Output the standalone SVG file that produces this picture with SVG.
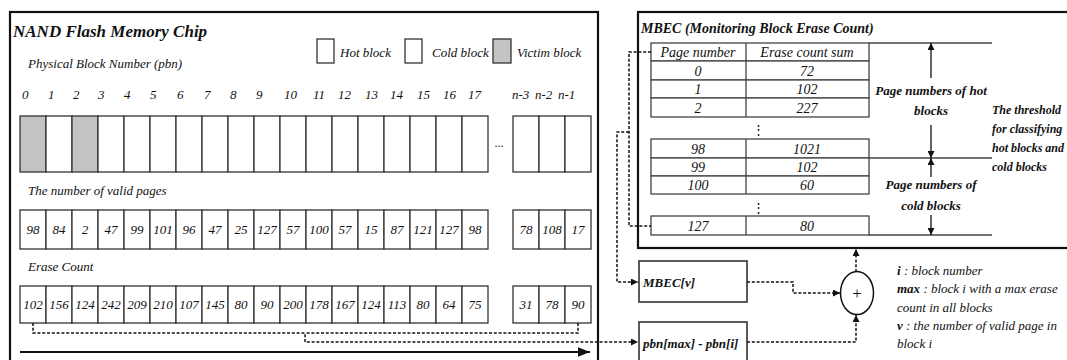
<svg xmlns="http://www.w3.org/2000/svg" width="1067" height="360" viewBox="0 0 1067 360">
<style>
text{font-family:"Liberation Serif","Times New Roman",serif;font-style:italic;fill:#111}
.bi{font-weight:bold}
.s12{font-size:12px}
.s13{font-size:13px}
.s14{font-size:14px}
.c{text-anchor:middle}
.cell{fill:#fff;stroke:#333;stroke-width:1.3}
.vic{fill:#c3c3c3;stroke:#333;stroke-width:1.3}
.frame{fill:none;stroke:#111;stroke-width:2.2}
.tab{fill:#fff;stroke:#444;stroke-width:1.3}
.ln{fill:none;stroke:#444;stroke-width:1.3}
.dash{fill:none;stroke:#111;stroke-width:1.5;stroke-dasharray:3 1.8}
.arr{fill:none;stroke:#111;stroke-width:1.3}
</style>
<defs>
<marker id="ah" viewBox="0 0 10 10" refX="10" refY="5" markerWidth="7" markerHeight="7" markerUnits="userSpaceOnUse" orient="auto">
<path d="M0,0 L10,5 L0,10 z" fill="#111"/>
</marker>
<marker id="ahL" viewBox="0 0 10 10" refX="10" refY="5" markerWidth="12" markerHeight="12" markerUnits="userSpaceOnUse" orient="auto">
<path d="M0,1 L10,5 L0,9 z" fill="#111"/>
</marker>
</defs>

<g id="nand-chip">
<rect class="frame" x="10" y="12" width="588" height="360"/>
<text class="bi" x="13" y="37" font-size="17">NAND Flash Memory Chip</text>
<text class="s13" x="28" y="68">Physical Block Number (pbn)</text>
<g id="legend">
<rect class="cell" x="317" y="39" width="17" height="24"/>
<text class="s13" x="340" y="57">Hot block</text>
<rect class="cell" x="405" y="39" width="17" height="24"/>
<text class="s13" x="432" y="57">Cold block</text>
<rect class="vic" x="493" y="39" width="18" height="24"/>
<text class="s13" x="517" y="57">Victim block</text>
</g>
<g id="pbn-numbers" class="s13">
<text x="22" y="99">0</text><text x="48" y="99">1</text><text x="73" y="99">2</text><text x="98" y="99">3</text><text x="124" y="99">4</text><text x="150" y="99">5</text><text x="177" y="99">6</text><text x="204" y="99">7</text><text x="230" y="99">8</text><text x="256" y="99">9</text><text x="284" y="99">10</text><text x="313" y="99">11</text><text x="338" y="99">12</text><text x="365" y="99">13</text><text x="390" y="99">14</text><text x="417" y="99">15</text><text x="443" y="99">16</text><text x="468" y="99">17</text>
<text x="512" y="99">n-3</text><text x="535" y="99">n-2</text><text x="558" y="99">n-1</text>
</g>
<g id="blocks">
<rect class="vic" x="20" y="116" width="26" height="56"/><rect class="cell" x="46" y="116" width="26" height="56"/><rect class="vic" x="72" y="116" width="26" height="56"/><rect class="cell" x="98" y="116" width="26" height="56"/><rect class="cell" x="124" y="116" width="26" height="56"/><rect class="cell" x="150" y="116" width="26" height="56"/><rect class="cell" x="176" y="116" width="26" height="56"/><rect class="cell" x="202" y="116" width="26" height="56"/><rect class="cell" x="228" y="116" width="26" height="56"/><rect class="cell" x="254" y="116" width="26" height="56"/><rect class="cell" x="280" y="116" width="26" height="56"/><rect class="cell" x="306" y="116" width="26" height="56"/><rect class="cell" x="332" y="116" width="26" height="56"/><rect class="cell" x="358" y="116" width="26" height="56"/><rect class="cell" x="384" y="116" width="26" height="56"/><rect class="cell" x="410" y="116" width="26" height="56"/><rect class="cell" x="436" y="116" width="26" height="56"/><rect class="cell" x="462" y="116" width="26" height="56"/>
<text class="s12" x="499" y="147" text-anchor="middle" style="font-style:normal">...</text>
<rect class="cell" x="513" y="116" width="26" height="56"/><rect class="cell" x="539" y="116" width="26" height="56"/><rect class="cell" x="565" y="116" width="26" height="56"/>
</g>
<text class="s13" x="28" y="195">The number of valid pages</text>
<g id="valid-pages">
<rect class="cell" x="20" y="210" width="26" height="39"/><rect class="cell" x="46" y="210" width="26" height="39"/><rect class="cell" x="72" y="210" width="26" height="39"/><rect class="cell" x="98" y="210" width="26" height="39"/><rect class="cell" x="124" y="210" width="26" height="39"/><rect class="cell" x="150" y="210" width="26" height="39"/><rect class="cell" x="176" y="210" width="26" height="39"/><rect class="cell" x="202" y="210" width="26" height="39"/><rect class="cell" x="228" y="210" width="26" height="39"/><rect class="cell" x="254" y="210" width="26" height="39"/><rect class="cell" x="280" y="210" width="26" height="39"/><rect class="cell" x="306" y="210" width="26" height="39"/><rect class="cell" x="332" y="210" width="26" height="39"/><rect class="cell" x="358" y="210" width="26" height="39"/><rect class="cell" x="384" y="210" width="26" height="39"/><rect class="cell" x="410" y="210" width="26" height="39"/><rect class="cell" x="436" y="210" width="26" height="39"/><rect class="cell" x="462" y="210" width="26" height="39"/>
<rect class="cell" x="513" y="210" width="26" height="39"/><rect class="cell" x="539" y="210" width="26" height="39"/><rect class="cell" x="565" y="210" width="26" height="39"/>
<g class="s13 c">
<text x="33" y="234">98</text><text x="59" y="234">84</text><text x="85" y="234">2</text><text x="111" y="234">47</text><text x="137" y="234">99</text><text x="163" y="234">101</text><text x="189" y="234">96</text><text x="215" y="234">47</text><text x="241" y="234">25</text><text x="267" y="234">127</text><text x="293" y="234">57</text><text x="319" y="234">100</text><text x="345" y="234">57</text><text x="371" y="234">15</text><text x="397" y="234">87</text><text x="423" y="234">121</text><text x="449" y="234">127</text><text x="475" y="234">98</text>
<text x="526" y="234">78</text><text x="552" y="234">108</text><text x="578" y="234">17</text>
</g>
</g>
<text class="s13" x="28" y="271">Erase Count</text>
<g id="erase-count">
<rect class="cell" x="20" y="286" width="26" height="37"/><rect class="cell" x="46" y="286" width="26" height="37"/><rect class="cell" x="72" y="286" width="26" height="37"/><rect class="cell" x="98" y="286" width="26" height="37"/><rect class="cell" x="124" y="286" width="26" height="37"/><rect class="cell" x="150" y="286" width="26" height="37"/><rect class="cell" x="176" y="286" width="26" height="37"/><rect class="cell" x="202" y="286" width="26" height="37"/><rect class="cell" x="228" y="286" width="26" height="37"/><rect class="cell" x="254" y="286" width="26" height="37"/><rect class="cell" x="280" y="286" width="26" height="37"/><rect class="cell" x="306" y="286" width="26" height="37"/><rect class="cell" x="332" y="286" width="26" height="37"/><rect class="cell" x="358" y="286" width="26" height="37"/><rect class="cell" x="384" y="286" width="26" height="37"/><rect class="cell" x="410" y="286" width="26" height="37"/><rect class="cell" x="436" y="286" width="26" height="37"/><rect class="cell" x="462" y="286" width="26" height="37"/>
<rect class="cell" x="513" y="286" width="26" height="37"/><rect class="cell" x="539" y="286" width="26" height="37"/><rect class="cell" x="565" y="286" width="26" height="37"/>
<g class="s13 c">
<text x="33" y="309">102</text><text x="59" y="309">156</text><text x="85" y="309">124</text><text x="111" y="309">242</text><text x="137" y="309">209</text><text x="163" y="309">210</text><text x="189" y="309">107</text><text x="215" y="309">145</text><text x="241" y="309">80</text><text x="267" y="309">90</text><text x="293" y="309">200</text><text x="319" y="309">178</text><text x="345" y="309">167</text><text x="371" y="309">124</text><text x="397" y="309">113</text><text x="423" y="309">80</text><text x="449" y="309">64</text><text x="475" y="309">75</text>
<text x="526" y="309">31</text><text x="552" y="309">78</text><text x="578" y="309">90</text>
</g>
</g>
</g>

<g id="mbec">
<rect class="frame" x="638" y="12" width="450" height="236"/>
<text class="bi s14" x="641" y="33">MBEC (Monitoring Block Erase Count)</text>
<g id="mbec-table">
<rect class="tab" x="651" y="43" width="218" height="18"/>
<rect class="tab" x="651" y="61" width="218" height="19"/>
<rect class="tab" x="651" y="80" width="218" height="18"/>
<rect class="tab" x="651" y="98" width="218" height="19"/>
<rect class="tab" x="651" y="139" width="218" height="19"/>
<rect class="tab" x="651" y="158" width="218" height="18"/>
<rect class="tab" x="651" y="176" width="218" height="18"/>
<rect class="tab" x="651" y="216" width="218" height="19"/>
<path class="ln" d="M746,43V117M746,139V194M746,216V235"/>
<path class="ln" d="M869,43H992M869,158H992M869,235H992"/>
<g class="s14 c">
<text x="698" y="57">Page number</text><text x="807" y="57">Erase count sum</text>
<text x="698" y="76">0</text><text x="807" y="76">72</text>
<text x="698" y="94">1</text><text x="807" y="94">102</text>
<text x="698" y="113">2</text><text x="807" y="113">227</text>
<text x="698" y="154">98</text><text x="807" y="154">1021</text>
<text x="698" y="172">99</text><text x="807" y="172">102</text>
<text x="698" y="190">100</text><text x="807" y="190">60</text>
<text x="698" y="231">127</text><text x="807" y="231">80</text>
</g>
<text class="s13 c" x="758" y="134" style="font-style:normal">⋮</text>
<text class="s13 c" x="758" y="212" style="font-style:normal">⋮</text>
</g>
<g id="threshold-arrows">
<path class="arr" d="M931,78V43" marker-end="url(#ah)"/>
<path class="arr" d="M931,125V158" marker-end="url(#ah)"/>
<path class="arr" d="M931,177V158" marker-end="url(#ah)"/>
<path class="arr" d="M931,215V235" marker-end="url(#ah)"/>
<text class="bi s13 c" x="931" y="95">Page numbers of hot</text>
<text class="bi s13 c" x="931" y="115">blocks</text>
<text class="bi s13 c" x="931" y="189">Page numbers of</text>
<text class="bi s13 c" x="931" y="210">cold blocks</text>
<g class="bi" font-size="12">
<text x="992" y="114">The threshold</text>
<text x="992" y="133">for classifying</text>
<text x="992" y="152">hot blocks and</text>
<text x="992" y="171">cold blocks</text>
</g>
</g>
</g>

<g id="mbec-v">
<rect class="frame" x="639" y="261" width="108" height="41" style="stroke-width:1.6;stroke:#333"/>
<text class="bi s13" x="643" y="287">MBEC[v]</text>
</g>
<g id="pbn-diff">
<rect class="frame" x="639" y="322" width="108" height="41" style="stroke-width:1.6;stroke:#333"/>
<text class="bi s13" x="643" y="348">pbn[max] - pbn[i]</text>
</g>
<g id="adder">
<ellipse cx="857" cy="293" rx="16.5" ry="21.5" fill="#fff" stroke="#111" stroke-width="1.5"/>
<text x="857" y="299" text-anchor="middle" style="font-style:normal;font-size:17px">+</text>
</g>

<g id="connectors">
<path class="dash" d="M33,323V333H305V342H638" marker-end="url(#ah)"/>
<path class="dash" d="M578,323V333H305"/>
<path d="M20,352H590" stroke="#111" stroke-width="2" fill="none" marker-end="url(#ahL)"/>
<path class="dash" d="M651,52H629V226H651"/>
<path class="dash" d="M629,132H617V282H638" marker-end="url(#ah)"/>
<path class="dash" d="M747,282H793V293H840" marker-end="url(#ah)"/>
<path class="dash" d="M747,342H856V315" marker-end="url(#ah)"/>
<path class="dash" d="M856,272V249" marker-end="url(#ah)"/>
</g>

<g id="notes" class="s13">
<text x="897" y="275"><tspan font-weight="bold">i</tspan> : block number</text>
<text x="897" y="293"><tspan font-weight="bold">max</tspan> : block i with a max erase</text>
<text x="897" y="312">count in all blocks</text>
<text x="897" y="330"><tspan font-weight="bold">v</tspan> : the number of valid page in</text>
<text x="897" y="348">block i</text>
</g>
</svg>
